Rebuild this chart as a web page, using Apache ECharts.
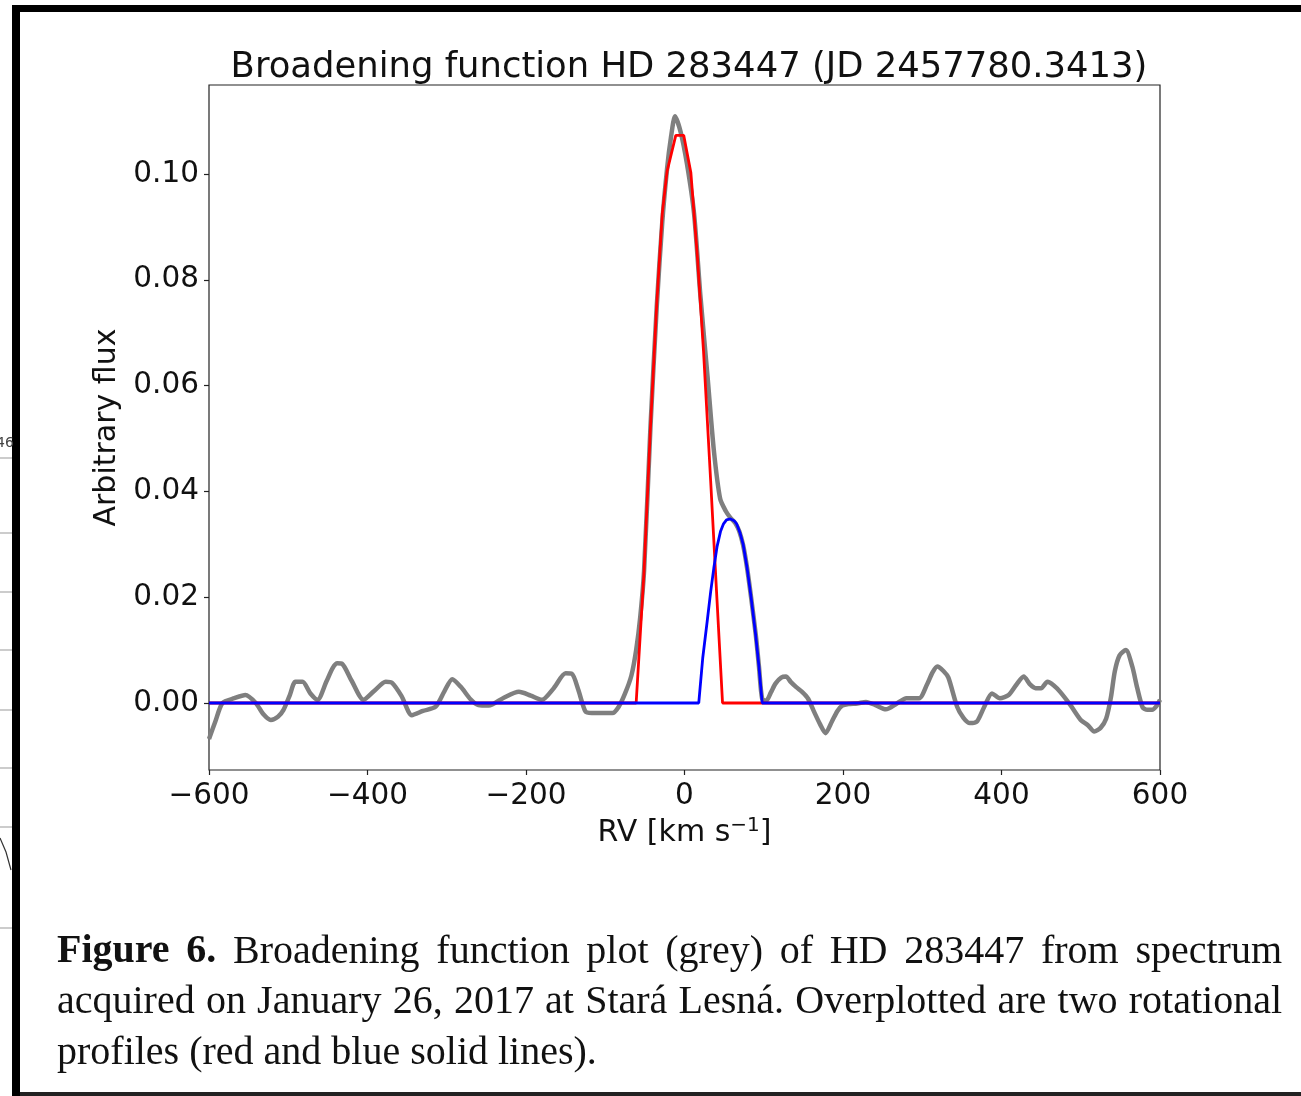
<!DOCTYPE html>
<html>
<head>
<meta charset="utf-8">
<title>Broadening function HD 283447</title>
<script src="https://cdn.jsdelivr.net/npm/echarts@6/dist/echarts.min.js"></script>
<style>
  html, body { margin: 0; padding: 0; background: #fff; }
  #chart { width: 1301px; height: 1096px; }
</style>
</head>
<body>
<div id="chart"></div>
<script>
// Broadening function (grey): radial velocity [km/s] and flux
const rvGrey = [-600, -592, -583, -568, -554, -541, -531, -522, -513, -506, -498, -491, -482, -472, -463,
  -452, -444, -438, -432, -420, -405, -392, -377, -369, -357, -344, -330, -314, -303, -293, -282, -270,
  -260, -247, -228, -209, -194, -180, -165, -150, -142, -134, -125, -117, -91, -83, -75, -67, -61, -56,
  -51, -43, -35, -28, -22, -17, -12, -5, 3, 12, 20, 29, 37, 45, 52, 58, 64, 69, 74, 79, 84, 90, 94, 98,
  103, 109, 115, 122, 128, 134, 141, 149, 156, 163, 171, 178, 186, 193, 199, 207, 218, 229, 241, 254,
  268, 280, 296, 306, 313, 319, 327, 333, 344, 352, 360, 369, 378, 388, 398, 409, 419, 428, 436, 443,
  450, 458, 466, 474, 487, 500, 509, 517, 525, 532, 538, 543, 549, 557, 565, 571, 578, 584, 590, 596, 600];
const fluxGrey = [-0.0068, -0.0035, 0.0000, 0.0009, 0.0015, 0.0000, -0.0022, -0.0032, -0.0026, -0.0013,
  0.0015, 0.0040, 0.0040, 0.0018, 0.0006, 0.0040, 0.0066, 0.0075, 0.0074, 0.0042, 0.0006, 0.0022, 0.0040,
  0.0038, 0.0013, -0.0023, -0.0015, -0.0007, 0.0022, 0.0045, 0.0030, 0.0007, -0.0004, -0.0005, 0.0010,
  0.0021, 0.0014, 0.0006, 0.0028, 0.0056, 0.0055, 0.0025, -0.0016, -0.0019, -0.0019, -0.0007, 0.0018,
  0.0052, 0.0100, 0.0160, 0.0250, 0.0520, 0.0750, 0.0910, 0.1010, 0.1070, 0.1109, 0.1080, 0.1020, 0.0926,
  0.0771, 0.0618, 0.0478, 0.0386, 0.0363, 0.0350, 0.0340, 0.0325, 0.0298, 0.0255, 0.0200, 0.0128, 0.0068,
  0.0008, 0.0004, 0.0020, 0.0037, 0.0048, 0.0050, 0.0040, 0.0030, 0.0020, 0.0008, -0.0015, -0.0040,
  -0.0057, -0.0035, -0.0015, -0.0005, -0.0002, -0.0001, 0.0002, -0.0004, -0.0012, -0.0001, 0.0009, 0.0009,
  0.0035, 0.0058, 0.0069, 0.0060, 0.0048, -0.0007, -0.0028, -0.0038, -0.0035, -0.0008, 0.0018, 0.0009,
  0.0015, 0.0035, 0.0050, 0.0035, 0.0028, 0.0028, 0.0040, 0.0033, 0.0021, -0.0004, -0.0032, -0.0042,
  -0.0054, -0.0047, -0.0030, 0.0010, 0.0060, 0.0090, 0.0100, 0.0069, 0.0030, -0.0008, -0.0013, -0.0013,
  -0.0005, 0.0006];

// First rotational profile (red)
const rvRed = [-600, -61, -56, -51, -43, -35, -28, -22, -11, -1, 8, 16, 24, 33, 41, 48, 600];
const fluxRed = [0, 0, 0.0125, 0.0250, 0.0520, 0.0755, 0.0926, 0.1005, 0.1073, 0.1073, 0.1003, 0.0849,
  0.0665, 0.0420, 0.0195, 0, 0];

// Second rotational profile (blue)
const rvBlue = [-600, 18, 23, 28.6, 33, 37, 41, 45.4, 49, 53, 58, 63, 66, 70, 74, 79, 84, 89.6, 94, 98, 600];
const fluxBlue = [0, 0, 0.0085, 0.0154, 0.0210, 0.0255, 0.0295, 0.0324, 0.0338, 0.0346, 0.0348, 0.0344,
  0.0338, 0.0322, 0.0300, 0.0255, 0.0200, 0.0131, 0.0068, 0, 0];

// Axis ticks
const xTicks = [-600, -400, -200, 0, 200, 400, 600];
const yTicks = [0, 0.02, 0.04, 0.06, 0.08, 0.10];

const titleText = 'Broadening function HD 283447 (JD 2457780.3413)';
const captionLines = [
  [['Figure', true], ['6.', true], ['Broadening', false], ['function', false], ['plot', false], ['(grey)', false],
   ['of', false], ['HD', false], ['283447', false], ['from', false], ['spectrum', false]],
  [['acquired', false], ['on', false], ['January', false], ['26,', false], ['2017', false], ['at', false],
   ['Stará', false], ['Lesná.', false], ['Overplotted', false], ['are', false], ['two', false], ['rotational', false]],
  [['profiles', false], ['(red', false], ['and', false], ['blue', false], ['solid', false], ['lines).', false]]
];

const zip = (xs, ys) => xs.map((x, i) => [x, ys[i]]);
const minusSign = v => String(v).replace('-', '\u2212');

// Caption: justified serif text placed word by word
const capFontSize = 40;
const capLeft = 57, capRight = 1282;
const capCenters = [952, 1002, 1053];
const measureCtx = document.createElement('canvas').getContext('2d');
function capFont(bold) {
  return (bold ? 'bold ' : '') + capFontSize + 'px "Liberation Serif", "Times New Roman", serif';
}
function wordWidth(w, bold) {
  measureCtx.font = capFont(bold);
  return measureCtx.measureText(w).width;
}
const captionGraphics = [];
captionLines.forEach((line, li) => {
  const widths = line.map(([w, b]) => wordWidth(w, b));
  const spaceW = wordWidth(' ', false);
  const total = widths.reduce((a, b) => a + b, 0);
  const justify = li < captionLines.length - 1;
  const gap = justify ? (capRight - capLeft - total) / (line.length - 1) : spaceW;
  let x = capLeft;
  line.forEach(([w, b], i) => {
    captionGraphics.push({
      type: 'text', x: x, y: capCenters[li], silent: true,
      style: { text: w, font: capFont(b), fill: '#111', verticalAlign: 'middle' }
    });
    x += widths[i] + gap;
  });
});

// Page frame and neighbouring-page fragments
const frameGraphics = [
  { type: 'rect', shape: { x: 12, y: 5, width: 1289, height: 7 }, style: { fill: '#000' }, silent: true },
  { type: 'rect', shape: { x: 12, y: 5, width: 8, height: 1091 }, style: { fill: '#000' }, silent: true },
  { type: 'rect', shape: { x: 20, y: 1092, width: 1281, height: 4 }, style: { fill: '#222' }, silent: true }
];
[458, 533, 592, 650, 710, 768, 827, 928].forEach(y => {
  frameGraphics.push({ type: 'line', shape: { x1: 0, y1: y, x2: 12, y2: y }, style: { stroke: '#999', lineWidth: 1 }, silent: true });
});
frameGraphics.push({ type: 'polyline', shape: { points: [[0, 838], [6, 852], [11, 870]] }, style: { stroke: '#333', lineWidth: 1.2, fill: null }, silent: true });
frameGraphics.push({ type: 'text', x: -4, y: 443, style: { text: '46', font: '14px "DejaVu Sans"', fill: '#444', verticalAlign: 'middle' }, silent: true });

const axisFont = '"DejaVu Sans", Verdana, sans-serif';
const chart = echarts.init(document.getElementById('chart'), null, { renderer: 'canvas' });
chart.setOption({
  animation: false,
  backgroundColor: '#fff',
  title: {
    text: titleText,
    left: 684, top: 45, textAlign: 'center',
    textStyle: { fontFamily: axisFont, fontSize: 35.4, fontWeight: 'normal', color: '#111' }
  },
  grid: {
    left: 209, top: 85, width: 951, height: 685,
    show: true, borderColor: '#222', borderWidth: 1.2, backgroundColor: 'transparent'
  },
  xAxis: {
    type: 'value', min: -600, max: 600, interval: 200,
    name: 'RV [km s{sup|\u22121}]', nameLocation: 'middle', nameGap: 39,
    nameTextStyle: {
      fontFamily: axisFont, fontSize: 30, color: '#111',
      rich: { sup: { fontFamily: axisFont, fontSize: 20, color: '#111', verticalAlign: 'top', padding: [0, 0, 14, 0] } }
    },
    axisLine: { show: false, onZero: false },
    axisTick: { show: true, length: 5, lineStyle: { color: '#222', width: 1.2 }, customValues: xTicks },
    axisLabel: { fontFamily: axisFont, fontSize: 29.5, color: '#111', margin: 11, formatter: v => minusSign(v), customValues: xTicks },
    splitLine: { show: false }
  },
  yAxis: {
    type: 'value', min: -0.01267, max: 0.11682,
    name: 'Arbitrary flux', nameLocation: 'middle', nameGap: 76, nameRotate: 90,
    nameTextStyle: { fontFamily: axisFont, fontSize: 30, color: '#111' },
    axisLine: { show: false, onZero: false },
    axisTick: { show: true, length: 5, lineStyle: { color: '#222', width: 1.2 }, customValues: yTicks },
    axisLabel: { fontFamily: axisFont, fontSize: 29.5, color: '#111', margin: 10, formatter: v => v.toFixed(2), customValues: yTicks },
    splitLine: { show: false }
  },
  series: [
    { name: 'Broadening function', type: 'line', data: zip(rvGrey, fluxGrey), showSymbol: false, smooth: 0.25,
      lineStyle: { color: '#7f7f7f', width: 4.5 }, z: 2 },
    { name: 'Rotational profile 1', type: 'line', data: zip(rvRed, fluxRed), showSymbol: false,
      lineStyle: { color: '#ff0000', width: 2.8 }, z: 3 },
    { name: 'Rotational profile 2', type: 'line', data: zip(rvBlue, fluxBlue), showSymbol: false,
      lineStyle: { color: '#0000ff', width: 2.8 }, z: 4 }
  ],
  graphic: frameGraphics.concat(captionGraphics)
});
</script>
</body>
</html>
